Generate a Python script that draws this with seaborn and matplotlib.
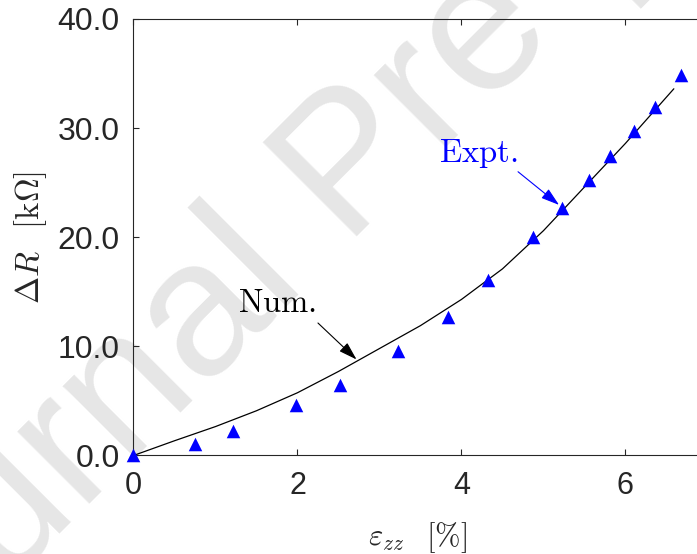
import matplotlib
matplotlib.use("Agg")
import matplotlib.pyplot as plt
from matplotlib.ticker import FormatStrFormatter
import seaborn as sns

# numerical curve
strain_num = [0, 0.5, 1.0, 1.5, 2.0, 2.5, 3.0, 3.5, 4.0, 4.5, 5.0, 5.5, 6.0, 6.59]
dR_num = [0, 1.35, 2.65, 4.1, 5.75, 7.7, 9.8, 11.9, 14.3, 17.1, 20.6, 24.6, 28.6, 33.6]

# experimental points
strain_exp = [0, 0.75, 1.21, 1.98, 2.52, 3.22, 3.83, 4.32, 4.87, 5.23, 5.56, 5.81, 6.10, 6.36, 6.68]
dR_exp = [0, 1.05, 2.27, 4.6, 6.44, 9.6, 12.7, 16.1, 20.0, 22.7, 25.2, 27.4, 29.7, 31.9, 34.9]

x_ticks = [0, 2, 4, 6]
y_ticks = [0, 10, 20, 30, 40]

sns.set_style("ticks")
plt.rcParams["font.family"] = ["Liberation Sans", "DejaVu Sans"]
plt.rcParams["mathtext.fontset"] = "cm"

dark = "#262626"

fig = plt.figure(figsize=(6.97, 5.54), dpi=100)
ax = fig.add_axes([0.1915, 0.1778, 0.8235, 0.788])
ax.patch.set_alpha(0)

# watermark behind the axes
fig.text(-0.1995, -0.3226, "Journal Pre-proof", rotation=45, rotation_mode="anchor",
         ha="left", va="baseline", fontsize=139, color="#e6e6e6", zorder=-1)

sns.lineplot(x=strain_num, y=dR_num, color="black", lw=0.9, estimator=None,
             sort=False, ax=ax, zorder=2)
sns.scatterplot(x=strain_exp, y=dR_exp, marker="^", s=95, color="blue",
                edgecolor="blue", linewidth=0, ax=ax, zorder=3, clip_on=False)

# annotations
ax.text(1.278, 13.18, r"$\mathrm{Num.}$", fontsize=23.5, color="black",
        ha="left", va="baseline")
ax.annotate("", xy=(2.72, 8.8), xytext=(2.25, 12.14),
            arrowprops=dict(arrowstyle="-|>,head_length=0.7,head_width=0.22",
                            color="black", lw=0.8, mutation_scale=16,
                            shrinkA=0, shrinkB=0))
ax.text(3.726, 26.87, r"$\mathrm{Expt.}$", fontsize=23.5, color="blue",
        ha="left", va="baseline")
ax.annotate("", xy=(5.19, 22.96), xytext=(4.69, 26.0),
            arrowprops=dict(arrowstyle="-|>,head_length=0.7,head_width=0.22",
                            color="blue", lw=0.8, mutation_scale=16,
                            shrinkA=0, shrinkB=0))

ax.set_xlim(0, 7)
ax.set_ylim(0, 40)
ax.set_xticks(x_ticks)
ax.set_yticks(y_ticks)
ax.yaxis.set_major_formatter(FormatStrFormatter("%.1f"))

ax.tick_params(direction="in", length=4.3, width=0.8, color=dark, labelcolor=dark,
               top=True, right=False)
ax.tick_params(axis="y", labelsize=23, pad=10)
ax.tick_params(axis="x", labelsize=22, pad=11)

for side in ["left", "top", "bottom"]:
    ax.spines[side].set_color(dark)
    ax.spines[side].set_linewidth(0.8)
ax.spines["right"].set_visible(False)

ax.set_xlabel(r"$\varepsilon_{zz}\ \ \,[\%]$", fontsize=22, color=dark)
ax.xaxis.set_label_coords(0.4956, -0.147)
ax.set_ylabel(r"$\Delta R\ \ \,[\mathrm{k}\Omega]$", fontsize=23.5, color=dark)
ax.yaxis.set_label_coords(-0.1472, 0.5)

fig.savefig("out.png", dpi=100)
